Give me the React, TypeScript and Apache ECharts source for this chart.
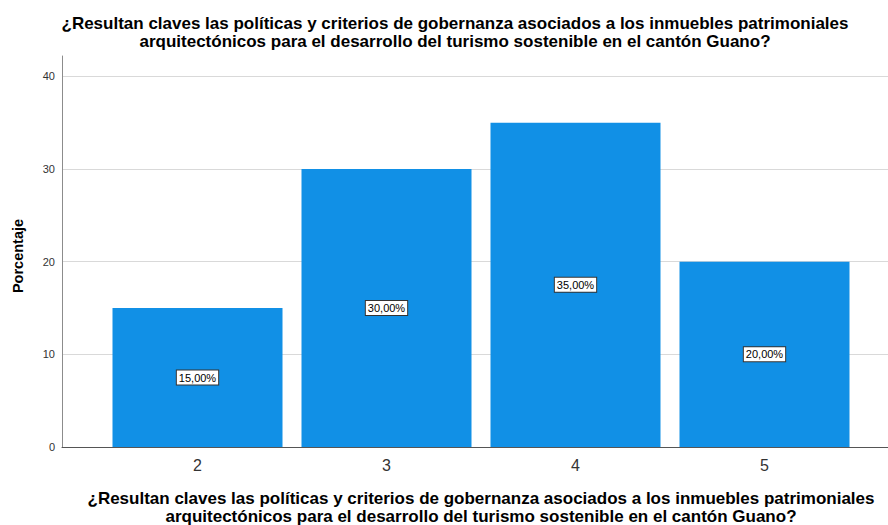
import React, { useEffect, useRef } from "react";
import * as echarts from "echarts";

const categories = ["2", "3", "4", "5"];
const percentages = [15, 30, 35, 20];
const yTicksMax = 42.2;
const yInterval = 10;
const titleLines = [
  "¿Resultan claves las políticas y criterios de gobernanza asociados a los inmuebles patrimoniales",
  "arquitectónicos para el desarrollo del turismo sostenible en el cantón Guano?",
];
const yAxisTitle = "Porcentaje";

const FONT = "'Liberation Sans', Arial, sans-serif";

function titleTexts(cx: number, cy: number) {
  return titleLines.map((t, i) => ({
    type: "text",
    x: cx,
    y: cy + i * 18,
    style: {
      text: t,
      font: `bold 17px ${FONT}`,
      fill: "#000000",
      textAlign: "center",
      textVerticalAlign: "middle",
      lineHeight: 17,
    },
  }));
}

export default function App() {
  const ref = useRef<HTMLDivElement>(null);
  useEffect(() => {
    if (!ref.current) return;
    const chart = echarts.init(ref.current, undefined, { renderer: "svg" });
    chart.setOption({
      animation: false,
      backgroundColor: "#ffffff",
      grid: [
        { left: 62, right: 0, top: 56, bottom: 78 },
        { left: 103, right: 29, top: 56, bottom: 78 },
      ],
      xAxis: [
        {
          gridIndex: 0,
          type: "value",
          min: 0,
          max: 1,
          axisLine: { show: true, lineStyle: { color: "#555555", width: 1 } },
          axisTick: { show: false },
          axisLabel: { show: false },
          splitLine: { show: false },
        },
        {
          gridIndex: 1,
          type: "category",
          data: categories,
          boundaryGap: true,
          axisLine: { show: false },
          axisTick: { show: false },
          axisLabel: {
            color: "#333333",
            fontSize: 16,
            fontFamily: FONT,
            margin: 10,
          },
        },
      ],
      yAxis: [
        {
          gridIndex: 0,
          type: "value",
          min: 0,
          max: yTicksMax,
          interval: yInterval,
          axisLine: { show: true, lineStyle: { color: "#8c8c8c", width: 1 } },
          axisTick: { show: false },
          axisLabel: {
            color: "#333333",
            fontSize: 11,
            fontFamily: FONT,
            margin: 7,
            showMaxLabel: false,
          },
          splitLine: {
            show: true,
            showMinLine: false,
            showMaxLine: false,
            lineStyle: { color: "#d9d9d9", width: 1 },
          },
        },
        {
          gridIndex: 1,
          type: "value",
          min: 0,
          max: yTicksMax,
          interval: yInterval,
          show: false,
          splitLine: { show: false },
        },
      ],
      series: [
        {
          type: "bar",
          xAxisIndex: 1,
          yAxisIndex: 1,
          data: percentages,
          barWidth: 170,
          itemStyle: { color: "#1190E6" },
          label: {
            show: true,
            position: "inside",
            formatter: (p: any) => p.value.toFixed(2).replace(".", ",") + "%",
            color: "#000000",
            fontSize: 11,
            fontFamily: FONT,
            backgroundColor: "#ffffff",
            borderColor: "#333333",
            borderWidth: 1,
            padding: [2, 2, 1, 2],
          },
        },
      ],
      graphic: [
        ...titleTexts(455, 23),
        ...titleTexts(481, 498),
        {
          type: "text",
          x: 18,
          y: 256,
          rotation: Math.PI / 2,
          style: {
            text: yAxisTitle,
            font: `bold 14.5px ${FONT}`,
            fill: "#000000",
            textAlign: "center",
            textVerticalAlign: "middle",
          },
        },
      ],
    });
    return () => chart.dispose();
  }, []);
  return (
    <div
      ref={ref}
      style={{ position: "fixed", left: 0, top: 0, width: 888, height: 525 }}
    />
  );
}
